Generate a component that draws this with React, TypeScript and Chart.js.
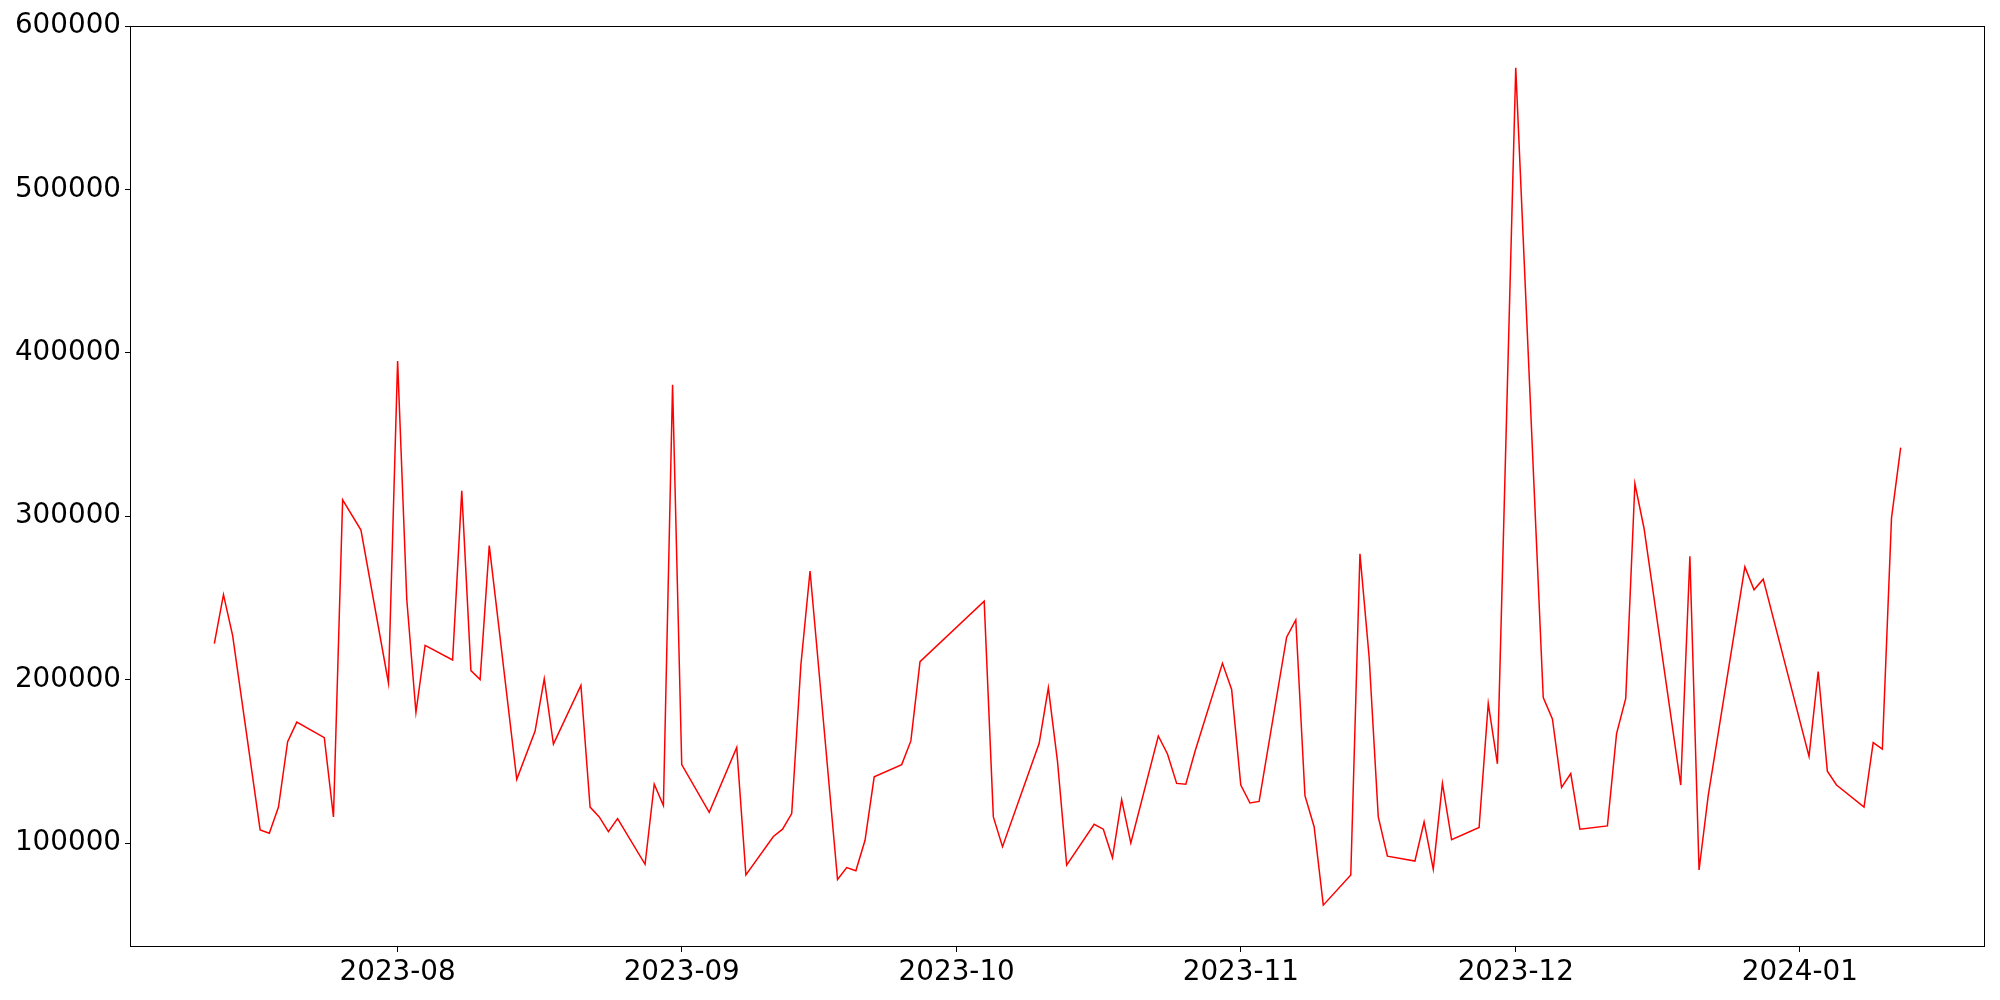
import React, { useEffect, useRef } from "react";
import { Chart, registerables } from "chart.js";

Chart.register(...registerables);

const dates: string[] = [
  "2023-07-12", "2023-07-13", "2023-07-14", "2023-07-17", "2023-07-18", "2023-07-19", "2023-07-20", "2023-07-21",
  "2023-07-24", "2023-07-25", "2023-07-26", "2023-07-28", "2023-07-31",
  "2023-08-01", "2023-08-02", "2023-08-03", "2023-08-04", "2023-08-07", "2023-08-08", "2023-08-09", "2023-08-10",
  "2023-08-11", "2023-08-14", "2023-08-16", "2023-08-17", "2023-08-18", "2023-08-21", "2023-08-22", "2023-08-23",
  "2023-08-24", "2023-08-25", "2023-08-28", "2023-08-29", "2023-08-30", "2023-08-31",
  "2023-09-01", "2023-09-04", "2023-09-07", "2023-09-08", "2023-09-11", "2023-09-12", "2023-09-13", "2023-09-14",
  "2023-09-15", "2023-09-18", "2023-09-19", "2023-09-20", "2023-09-21", "2023-09-22", "2023-09-25", "2023-09-26",
  "2023-09-27",
  "2023-10-04", "2023-10-05", "2023-10-06", "2023-10-10", "2023-10-11", "2023-10-12", "2023-10-13", "2023-10-16",
  "2023-10-17", "2023-10-18", "2023-10-19", "2023-10-20", "2023-10-23", "2023-10-24", "2023-10-25", "2023-10-26",
  "2023-10-27", "2023-10-30", "2023-10-31",
  "2023-11-01", "2023-11-02", "2023-11-03", "2023-11-06", "2023-11-07", "2023-11-08", "2023-11-09", "2023-11-10",
  "2023-11-13", "2023-11-14", "2023-11-15", "2023-11-16", "2023-11-17", "2023-11-20", "2023-11-21", "2023-11-22",
  "2023-11-23", "2023-11-24", "2023-11-27", "2023-11-28", "2023-11-29",
  "2023-12-01", "2023-12-04", "2023-12-05", "2023-12-06", "2023-12-07", "2023-12-08", "2023-12-11", "2023-12-12",
  "2023-12-13", "2023-12-14", "2023-12-15", "2023-12-19", "2023-12-20", "2023-12-21", "2023-12-22", "2023-12-26",
  "2023-12-27", "2023-12-28",
  "2024-01-02", "2024-01-03", "2024-01-04", "2024-01-05", "2024-01-08", "2024-01-09", "2024-01-10", "2024-01-11",
  "2024-01-12",
];

const values: number[] = [
  222000, 252000, 227000, 108000, 106000, 122000, 162000, 174000,
  164500, 116000, 310000, 291500, 198000,
  395000, 249000, 180000, 221000, 212000, 315500, 205500, 200000,
  282000, 139000, 168500, 200500, 160500, 196500, 122000, 116000,
  107000, 115000, 87000, 136000, 123000, 380500,
  148000, 118800, 158500, 80500, 104000, 108500, 118000, 209000,
  266500, 77700, 85000, 83000, 101700, 140500, 148000, 162500,
  211000,
  248000, 116000, 97800, 161000, 195000, 150000, 86500, 111500,
  108500, 91000, 126500, 100000, 165500, 154500, 136500, 136000,
  156000, 210000, 194000,
  135500, 124500, 125500, 226000, 236500, 129000, 110000, 62000,
  80500, 277000, 214000, 116000, 92000, 89000, 113000, 84000,
  136500, 102000, 109500, 185500, 148500,
  574400, 189000, 176000, 134000, 142500, 108500, 110500, 167000,
  188500, 320000, 292500, 135500, 275500, 83500, 129000, 269000,
  255000, 261500,
  153000, 205000, 144000, 135500, 122000, 161500, 157500, 299000,
  342000,
];

const monthTickDates: string[] = ["2023-08-01", "2023-09-01", "2023-10-01", "2023-11-01", "2023-12-01", "2024-01-01"];
const monthTickLabels: string[] = ["2023-08", "2023-09", "2023-10", "2023-11", "2023-12", "2024-01"];
const yTickValues: number[] = [100000, 200000, 300000, 400000, 500000, 600000];

const BASE = Date.UTC(2023, 7, 1);
const dayOf = (s: string) => {
  const [y, m, d] = s.split("-").map(Number);
  return (Date.UTC(y, m - 1, d) - BASE) / 86400000;
};

const framePlugin = {
  id: "frame",
  afterDraw(chart: any) {
    const { ctx, chartArea } = chart;
    const l = Math.round(chartArea.left) + 0.5;
    const t = Math.round(chartArea.top) + 0.5;
    const r = Math.round(chartArea.right) - 0.5;
    const b = Math.round(chartArea.bottom) - 0.5;
    ctx.save();
    ctx.strokeStyle = "#000";
    ctx.lineWidth = 1;
    ctx.strokeRect(l, t, r - l, b - t);
    ctx.restore();
  },
};

export default function App() {
  const ref = useRef<HTMLCanvasElement>(null);

  useEffect(() => {
    document.body.style.margin = "0";
    const canvas = ref.current;
    if (!canvas) return;

    const xs = dates.map(dayOf);
    const xFirst = xs[0];
    const xLast = xs[xs.length - 1];
    const xPad = (xLast - xFirst) * 0.05;
    const yMinData = Math.min(...values);
    const yMaxData = Math.max(...values);
    const yPad = (yMaxData - yMinData) * 0.05;

    const tickXs = monthTickDates.map(dayOf);
    const font = { family: "DejaVu Sans", size: 27.8 };

    const chart = new Chart(canvas, {
      type: "line",
      data: {
        datasets: [
          {
            data: xs.map((x, i) => ({ x, y: values[i] })),
            borderColor: "#ff0000",
            borderWidth: 1.5,
            pointRadius: 0,
            tension: 0,
            fill: false,
          },
        ],
      },
      options: {
        animation: false,
        responsive: false,
        devicePixelRatio: 1,
        layout: { padding: { left: 0, right: 15, top: 26, bottom: 0 } },
        plugins: { legend: { display: false }, tooltip: { enabled: false } },
        scales: {
          x: {
            type: "linear",
            min: xFirst - xPad,
            max: xLast + xPad,
            grid: { drawOnChartArea: false, drawTicks: true, tickLength: 5, color: "#000", lineWidth: 1 },
            border: { display: false },
            afterBuildTicks: (scale: any) => {
              scale.ticks = tickXs.map((v) => ({ value: v }));
            },
            afterFit: (scale: any) => {
              scale.height = 53;
            },
            ticks: {
              font,
              color: "#000",
              padding: 4,
              maxRotation: 0,
              autoSkip: false,
              callback: (v: any) => {
                const i = tickXs.indexOf(Number(v));
                return i >= 0 ? monthTickLabels[i] : "";
              },
            },
          },
          y: {
            type: "linear",
            min: yMinData - yPad,
            max: yMaxData + yPad,
            grid: { drawOnChartArea: false, drawTicks: true, tickLength: 5, color: "#000", lineWidth: 1 },
            border: { display: false },
            afterBuildTicks: (scale: any) => {
              scale.ticks = yTickValues.map((v) => ({ value: v }));
            },
            afterFit: (scale: any) => {
              scale.width = 130;
            },
            ticks: {
              font,
              color: "#000",
              padding: 4,
              autoSkip: false,
              callback: (v: any) => String(v),
            },
          },
        },
      },
      plugins: [framePlugin],
    });

    return () => chart.destroy();
  }, []);

  return (
    <div style={{ width: 2000, height: 1000 }}>
      <canvas ref={ref} width={2000} height={1000} />
    </div>
  );
}
